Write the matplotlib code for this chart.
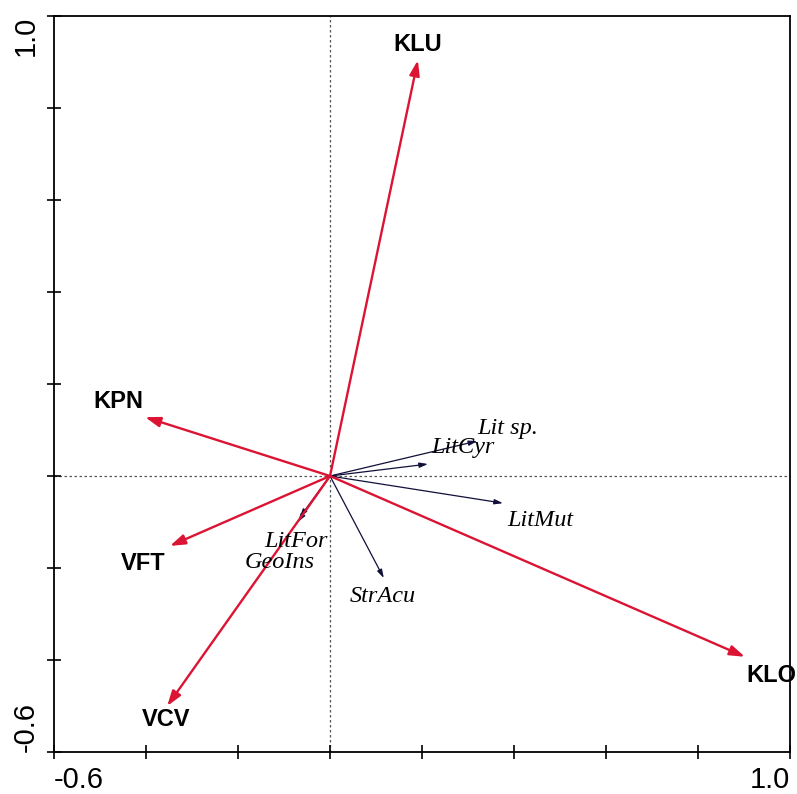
import numpy as np
import matplotlib.pyplot as plt
import matplotlib as mpl

# environmental variables (red arrows)
env_names = ['KLU', 'KPN', 'VFT', 'VCV', 'KLO']
env_x = [0.191, -0.402, -0.348, -0.354, 0.902]
env_y = [0.904, 0.128, -0.152, -0.500, -0.393]
env_lab_x = [0.191, -0.461, -0.407, -0.357, 0.959]
env_lab_y = [0.939, 0.163, -0.191, -0.530, -0.433]

# species (black arrows)
sp_names = ['Lit sp.', 'LitCyr', 'LitMut', 'StrAcu', 'LitFor', 'GeoIns']
sp_x = [0.320, 0.213, 0.376, 0.117, -0.070, -0.066]
sp_y = [0.076, 0.026, -0.059, -0.222, -0.100, -0.090]
sp_lab_x = [0.387, 0.289, 0.457, 0.115, -0.074, -0.109]
sp_lab_y = [0.104, 0.061, -0.096, -0.261, -0.143, -0.189]

ticks = np.arange(-0.6, 1.01, 0.2)


def main():
    mpl.rcParams["font.family"] = ["Liberation Sans", "DejaVu Sans"]
    fig = plt.figure(figsize=(7.97, 7.94), dpi=100)
    ax = fig.add_axes([0.0678, 0.0529, 0.9234, 0.9269])
    ax.set_xlim(-0.6, 1.0)
    ax.set_ylim(-0.6, 1.0)

    ax.axhline(0, color='#555555', linestyle=(0, (2, 2)), linewidth=0.9, zorder=1)
    ax.axvline(0, color='#555555', linestyle=(0, (2, 2)), linewidth=0.9, zorder=1)

    red = '#DC1433'
    for x, y in zip(env_x, env_y):
        ax.annotate('', xy=(x, y), xytext=(0, 0),
                    arrowprops=dict(arrowstyle='-|>,head_length=0.9,head_width=0.3',
                                    color=red, lw=1.7, shrinkA=0, shrinkB=0), zorder=3)
    for name, x, y in zip(env_names, env_lab_x, env_lab_y):
        ax.text(x, y, name, fontsize=17, fontweight='bold', ha='center', va='center')

    for x, y in zip(sp_x, sp_y):
        ax.annotate('', xy=(x, y), xytext=(0, 0),
                    arrowprops=dict(arrowstyle='-|>,head_length=0.5,head_width=0.15',
                                    color='#10103a', lw=0.9, shrinkA=0, shrinkB=0), zorder=2)
    for name, x, y in zip(sp_names, sp_lab_x, sp_lab_y):
        ax.text(x, y, name, fontsize=17.5, fontstyle='italic', family='Liberation Serif',
                ha='center', va='center')

    ax.set_xticks(ticks)
    ax.set_yticks(ticks)
    ax.set_xticklabels(['-0.6'] + [''] * 7 + ['1.0'], fontsize=21)
    ax.set_yticklabels(['-0.6'] + [''] * 7 + ['1.0'], fontsize=21, rotation=90)
    ax.tick_params(direction='inout', length=10, width=1.2, pad=5)
    xl = ax.get_xticklabels()
    xl[0].set_ha('left')
    xl[-1].set_ha('right')
    yl = ax.get_yticklabels()
    yl[0].set_va('bottom')
    yl[-1].set_va('top')
    for s in ax.spines.values():
        s.set_linewidth(1.3)

    plt.savefig('out.png', dpi=100)
    plt.close()


if __name__ == '__main__':
    main()
